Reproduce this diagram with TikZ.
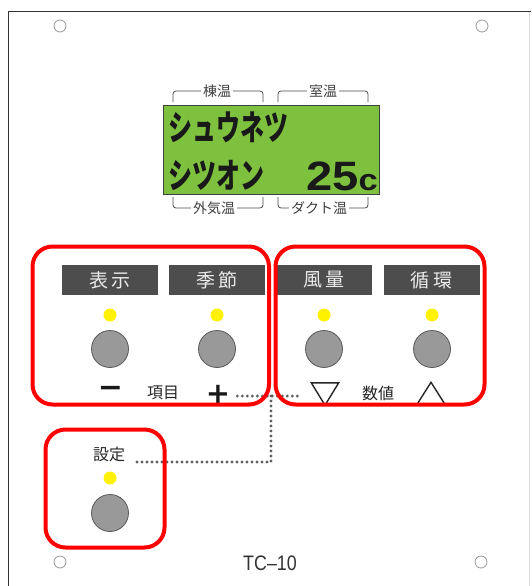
\documentclass[tikz,border=0pt]{standalone}
\usepackage{fontspec}
\setmainfont{Liberation Sans}
\newfontfamily\jp{Noto Sans CJK JP}
\newfontfamily\dv{DejaVu Sans}
\usetikzlibrary{calc}
\definecolor{lcdgreen}{RGB}{125,193,62}
\definecolor{labelgray}{RGB}{77,77,77}
\definecolor{labeltext}{RGB}{235,235,235}
\definecolor{ledyellow}{RGB}{255,242,0}
\definecolor{btngray}{RGB}{153,153,153}
\definecolor{btnedge}{RGB}{90,90,90}
\definecolor{dotgray}{RGB}{95,95,95}
\definecolor{redc}{RGB}{255,0,0}
\begin{document}
\begin{tikzpicture}[x=1pt,y=-1pt,
  lbl/.style={rectangle, fill=labelgray, text=labeltext, minimum width=96pt, minimum height=30pt, inner sep=0pt, font=\jp\fontsize{19}{19}\selectfont},
  led/.style={circle, fill=ledyellow, minimum size=13pt, inner sep=0pt},
  btn/.style={circle, fill=btngray, draw=btnedge, line width=0.8pt, minimum size=37pt, inner sep=0pt},
  hole/.style={circle, draw=black!40, line width=0.8pt, minimum size=12pt, inner sep=0pt},
  redbox/.style={draw=redc, line width=4pt, rounded corners=20pt},
  dotline/.style={draw=dotgray, line width=3.2pt, line cap=round, dash pattern=on 0pt off 5pt},
  brk/.style={draw=black!70, line width=0.8pt, rounded corners=3pt},
  brklbl/.style={fill=white, inner sep=2pt, text=black!75, font=\jp\fontsize{14}{14}\selectfont},
  smalltxt/.style={inner sep=1pt, text=black!85, font=\jp\fontsize{16}{16}\selectfont},
  lcdtxt/.style={inner sep=0pt, text=black!90, font=\jp\bfseries\fontsize{24}{24}\selectfont}
]
\useasboundingbox (0,0) rectangle (531,586);
\fill[white] (0,0) rectangle (531,586);
% panel
\draw[black!80, line width=1.3pt] (8.5,586) -- (8.5,11.5) -- (531,11.5);
\draw[black!15, line width=0.6pt] (529.5,12) -- (529.5,586);
% mounting holes
\node[hole] (h1) at (60,26) {};
\node[hole] (h2) at (482,26) {};
\node[hole] (h3) at (60,562) {};
\node[hole] (h4) at (481,562) {};
% LCD
\node[draw=black!75, fill=lcdgreen, line width=1pt, minimum width=216pt, minimum height=89pt, inner sep=0pt] (lcd) at (271,149.5) {};
\node[lcdtxt, anchor=west] (row1) at (168,127) {\scalebox{1}[1.45]{シュウネツ}};
\node[lcdtxt, anchor=west] (row2) at (168,175) {\scalebox{1}[1.45]{シツオン}};
\node[inner sep=0pt, anchor=base east, text=black!90] (temp) at (378,190) {\scalebox{1.15}[1]{\fontsize{41}{41}\bfseries\selectfont 25\fontsize{30}{30}\selectfont c}};
% brackets
\draw[brk] (173,102) -- (173,91) -- (263,91) -- (263,102);
\draw[brk] (278,102) -- (278,91) -- (368,91) -- (368,102);
\draw[brk] (173,197) -- (173,208) -- (263,208) -- (263,197);
\draw[brk] (278,197) -- (278,208) -- (368,208) -- (368,197);
\node[brklbl] (t1) at (217,91) {棟温};
\node[brklbl] (t2) at (323,91) {室温};
\node[brklbl] (b1) at (214,208) {外気温};
\node[brklbl] (b2) at (319,208) {ダクト温};
% label boxes
\node[lbl] (l1) at (110,280) {表\hspace{4pt}示};
\node[lbl] (l2) at (217,280) {季\hspace{4pt}節};
\node[lbl] (l3) at (324,280) {風\hspace{4pt}量};
\node[lbl] (l4) at (431.5,280) {循\hspace{4pt}環};
% LEDs
\node[led] (e1) at (110,315) {};
\node[led] (e2) at (217,315) {};
\node[led] (e3) at (324,315) {};
\node[led] (e4) at (432,315) {};
\node[led] (e5) at (110,478) {};
% buttons
\node[btn] (k1) at (110,349) {};
\node[btn] (k2) at (217,349) {};
\node[btn] (k3) at (324,349) {};
\node[btn] (k4) at (432,349) {};
\node[btn] (k5) at (110,513) {};
% bottom row
\node[inner sep=0pt, text=black!90, font=\dv\bfseries\fontsize{30}{30}\selectfont] (minus) at (110.5,392) {−};
\node[smalltxt] (item) at (163,393) {項目};
\node[inner sep=0pt, text=black!90, font=\dv\bfseries\fontsize{29}{29}\selectfont] (plus) at (218,394) {+};
\node[inner sep=0pt, minimum width=27pt, minimum height=22pt] (down) at (325,394) {};
\draw[black!85, line width=1.4pt, line join=miter] (down.north west) -- (down.north east) -- (down.south) -- cycle;
\node[smalltxt] (value) at (378,393) {数値};
\node[inner sep=0pt, minimum width=28pt, minimum height=22pt] (up) at (431,393.5) {};
\draw[black!85, line width=1.4pt, line join=miter] (up.south west) -- (up.north) -- (up.south east);
% setting
\node[smalltxt] (setlbl) at (109,454) {設定};
% dotted connectors
\coordinate (dj) at (271,396);
\coordinate (dk) at (271,462);
\draw[dotline] ($(plus.east)+(7,2)$) -- ($(down.west)+(-11,2)$);
\draw[dotline] (dj) -- (dk) -- ($(setlbl.east)+(6,8)$);
% red frames
\draw[redbox] (32.5,246.5) rectangle (269,404.5);
\draw[redbox] (275.5,246.5) rectangle (484.5,404.5);
\draw[redbox] (45.5,429.5) rectangle (164.5,547.5);
% model
\node[inner sep=0pt, text=black!80, font=\fontsize{21}{21}\selectfont] (model) at (270,563) {\scalebox{0.85}[1]{TC–10}};
\end{tikzpicture}
\end{document}
